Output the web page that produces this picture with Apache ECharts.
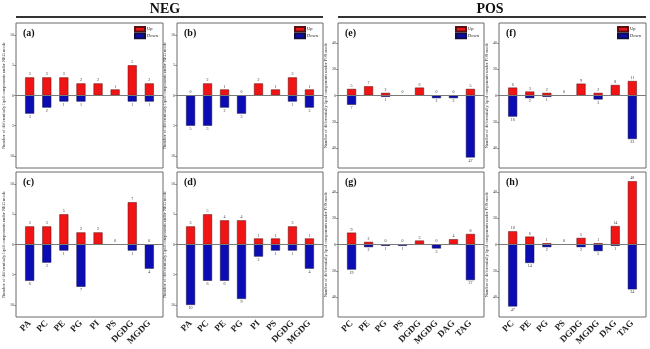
<!DOCTYPE html>
<html>
<head>
<meta charset="utf-8">
<script src="https://cdn.jsdelivr.net/npm/echarts@6/dist/echarts.min.js"></script>
<style>
  html, body { margin: 0; padding: 0; background: #fff; }
  #chart { width: 650px; height: 349px; }
</style>
</head>
<body>
<div id="chart"></div>
<script>
// Lipid classes detected in each ionisation mode
const negClasses = ['PA', 'PC', 'PE', 'PG', 'PI', 'PS', 'DGDG', 'MGDG'];
const posClasses = ['PC', 'PE', 'PG', 'PS', 'DGDG', 'MGDG', 'DAG', 'TAG'];

// Counts of up- and down-regulated lipid components per class
const upA   = [3, 3, 3, 2, 2, 1, 5, 2];
const downA = [3, 2, 1, 1, 0, 0, 1, 1];
const upB   = [0, 2, 1, 0, 2, 1, 3, 1];
const downB = [5, 5, 2, 3, 0, 0, 1, 2];
const upC   = [3, 3, 5, 2, 2, 0, 7, 0];
const downC = [6, 3, 1, 7, 0, 0, 1, 4];
const upD   = [3, 5, 4, 4, 1, 1, 3, 1];
const downD = [10, 6, 6, 9, 2, 1, 1, 4];
const upE   = [5, 7, 2, 0, 6, 0, 0, 5];
const downE = [7, 0, 1, 0, 0, 2, 2, 47];
const upF   = [6, 3, 2, 0, 9, 2, 8, 11];
const downF = [16, 2, 1, 0, 0, 3, 0, 33];
const upG   = [9, 2, 0, 0, 3, 0, 4, 8];
const downG = [19, 2, 1, 1, 0, 3, 0, 27];
const upH   = [10, 6, 1, 0, 5, 1, 14, 48];
const downH = [47, 14, 2, 0, 2, 5, 1, 34];

// Y tick values for the two modes
const negTicks = [-10, -5, 0, 5, 10];
const posTicks = [-40, -20, 0, 20, 40];

const FONT = 'Liberation Serif';
const RED = '#f01414';
const BLUE = '#0c0cb4';

const panels = [
  { tag: '(a)', cats: negClasses, up: upA, down: downA, mode: 'NEG', left: 16,  top: 23,  w: 147, bottomRow: false },
  { tag: '(b)', cats: negClasses, up: upB, down: downB, mode: 'NEG', left: 177, top: 23,  w: 146, bottomRow: false },
  { tag: '(c)', cats: negClasses, up: upC, down: downC, mode: 'NEG', left: 16,  top: 172, w: 147, bottomRow: true },
  { tag: '(d)', cats: negClasses, up: upD, down: downD, mode: 'NEG', left: 177, top: 172, w: 146, bottomRow: true },
  { tag: '(e)', cats: posClasses, up: upE, down: downE, mode: 'POS', left: 338, top: 23,  w: 146, bottomRow: false },
  { tag: '(f)', cats: posClasses, up: upF, down: downF, mode: 'POS', left: 499, top: 23,  w: 147, bottomRow: false },
  { tag: '(g)', cats: posClasses, up: upG, down: downG, mode: 'POS', left: 338, top: 172, w: 146, bottomRow: true },
  { tag: '(h)', cats: posClasses, up: upH, down: downH, mode: 'POS', left: 499, top: 172, w: 147, bottomRow: true }
];
const PANEL_H = 145;

const grid = [], xAxis = [], yAxis = [], series = [], legend = [], graphic = [];

panels.forEach((p, i) => {
  const isNeg = p.mode === 'NEG';
  const lim = isNeg ? 12 : 55;
  const ticks = isNeg ? negTicks : posTicks;

  grid.push({
    left: p.left, top: p.top, width: p.w, height: PANEL_H,
    show: true, borderColor: '#6a6a6a', borderWidth: 1, backgroundColor: '#fff'
  });

  xAxis.push({
    gridIndex: i, type: 'value', min: -0.8, max: 7.8, position: 'bottom',
    axisLine: { show: false, onZero: false }, axisTick: { show: false }, splitLine: { show: false },
    axisLabel: {
      show: p.bottomRow,
      customValues: [0, 1, 2, 3, 4, 5, 6, 7],
      formatter: v => p.cats[Math.round(v)] || '',
      rotate: 45, margin: 5,
      fontFamily: FONT, fontWeight: 'bold', fontSize: 9, color: '#222'
    }
  });

  yAxis.push({
    gridIndex: i, type: 'value', min: -lim, max: lim, position: 'left',
    axisLine: { show: false, onZero: false },
    splitLine: { show: false },
    axisTick: { show: true, length: 2, customValues: ticks, lineStyle: { color: '#555', width: 0.6 } },
    axisLabel: {
      customValues: ticks, margin: 2,
      formatter: v => String(Math.abs(v)),
      fontFamily: FONT, fontSize: 4, color: '#333'
    },
    name: 'Number of differentially lipid components under ' + p.mode + ' mode',
    nameLocation: 'middle', nameGap: 8, nameRotate: 90,
    nameTextStyle: { fontFamily: FONT, fontSize: 4.4, color: '#333' }
  });

  series.push({
    name: 'Up', type: 'bar', xAxisIndex: i, yAxisIndex: i,
    barWidth: 9,
    data: p.up.map((v, k) => [k, v]),
    itemStyle: { color: RED, borderColor: '#5a1010', borderWidth: 0.5 },
    label: {
      show: true, position: 'top', distance: 1,
      formatter: d => String(d.value[1]),
      fontFamily: FONT, fontSize: 4, color: '#333'
    },
    markLine: {
      silent: true, symbol: 'none', animation: false,
      label: { show: false },
      lineStyle: { color: '#7a7a7a', width: 1, type: 'solid' },
      data: [{ yAxis: 0 }]
    },
    animation: false
  });

  series.push({
    name: 'Down', type: 'bar', xAxisIndex: i, yAxisIndex: i,
    barWidth: 9, barGap: '-100%',
    data: p.down.map((v, k) => [k, -v]),
    itemStyle: { color: BLUE, borderColor: '#101040', borderWidth: 0.5 },
    label: {
      show: true, position: 'bottom', distance: 1,
      formatter: d => (d.value[1] === 0 ? '' : String(Math.abs(d.value[1]))),
      fontFamily: FONT, fontSize: 4, color: '#333'
    },
    animation: false
  });

  if (!p.bottomRow) {
    legend.push({
      data: ['Up', 'Down'],
      orient: 'vertical',
      left: p.left + p.w - 29, top: p.top + 3,
      itemWidth: 10, itemHeight: 4.6, itemGap: 0,
      icon: 'rect', padding: 0, selectedMode: false,
      textStyle: { fontFamily: FONT, fontSize: 4.5, color: '#222', padding: [0, 0, 0, -3] }
    });
  }

  graphic.push({
    type: 'text', left: p.left + 7, top: p.top + 5,
    style: { text: p.tag, font: 'bold 10px "Liberation Serif"', fill: '#111' }
  });
});

// Mode headings with rules underneath
graphic.push(
  { type: 'text', x: 165, y: 9, style: { text: 'NEG', font: 'bold 14px "Liberation Serif"', fill: '#111', align: 'center', verticalAlign: 'middle' } },
  { type: 'text', x: 490, y: 9, style: { text: 'POS', font: 'bold 14px "Liberation Serif"', fill: '#111', align: 'center', verticalAlign: 'middle' } },
  { type: 'line', shape: { x1: 16, y1: 17, x2: 323, y2: 17 }, style: { stroke: '#333', lineWidth: 2 } },
  { type: 'line', shape: { x1: 338, y1: 17, x2: 646, y2: 17 }, style: { stroke: '#333', lineWidth: 2 } }
);

const chart = echarts.init(document.getElementById('chart'), null, { renderer: 'canvas' });
chart.setOption({
  backgroundColor: '#fff',
  animation: false,
  grid, xAxis, yAxis, series, legend, graphic
});
</script>
</body>
</html>
